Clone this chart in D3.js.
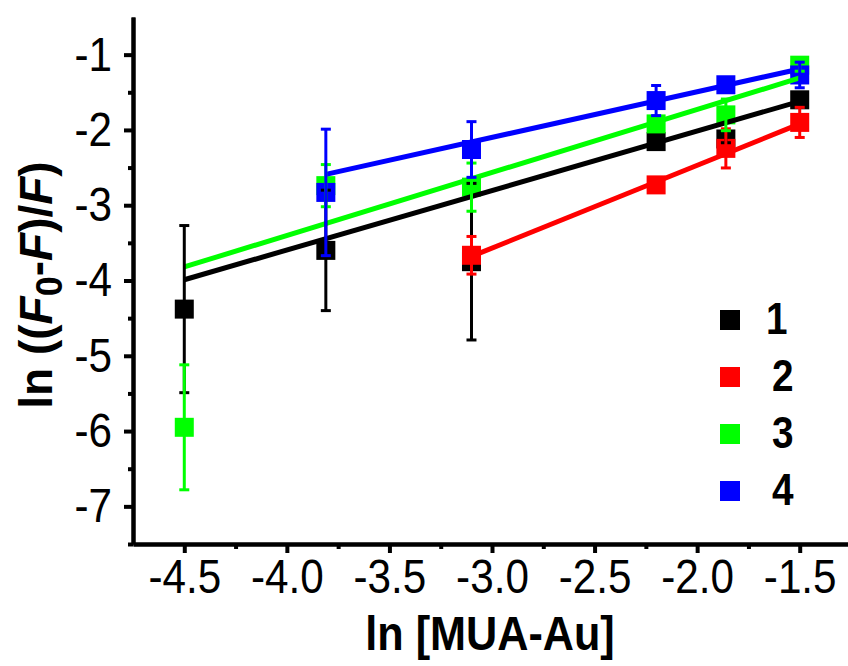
<!DOCTYPE html>
<html>
<head>
<meta charset="utf-8">
<script src="https://cdn.jsdelivr.net/npm/d3@7"></script>
<style>
  body { margin: 0; background: #fff; }
  text { font-family: "Liberation Sans", Arial, sans-serif; }
</style>
</head>
<body>
<script>
// Datos
const lnConc = [-4.5, -3.81, -3.1, -2.2, -1.86, -1.5];
const seriesNames = ["1", "2", "3", "4"];
const seriesColors = ["#000000", "#ff0000", "#00ff00", "#0000ff"];

const y1 = [-4.38, -3.60, -3.75, -2.155, -2.12, -1.60];
const e1 = [1.11, 0.80, 1.04, 0.05, 0.05, 0.05];
const y2 = [null, null, -3.665, -2.73, -2.245, -1.90];
const e2 = [null, null, 0.25, 0.05, 0.26, 0.20];
const y3 = [-5.95, -2.74, -2.76, -1.92, -1.80, -1.14];
const e3 = [0.83, 0.28, 0.32, 0.10, 0.21, 0.08];
const y4 = [null, -2.83, -2.26, -1.61, -1.40, -1.27];
const e4 = [null, 0.84, 0.37, 0.20, 0.05, 0.17];

// rectas de ajuste: x inicial, x final, y inicial, y final
const fitX0 = [-4.5, -3.1, -4.5, -3.81];
const fitX1 = [-1.5, -1.5, -1.5, -1.5];
const fitY0 = [-3.99, -3.68, -3.82, -2.59];
const fitY1 = [-1.62, -1.92, -1.31, -1.19];

const xTicks = [-4.5, -4.0, -3.5, -3.0, -2.5, -2.0, -1.5];
const xMinor = [-4.25, -3.75, -3.25, -2.75, -2.25, -1.75, -1.25];
const yTicks = [-1, -2, -3, -4, -5, -6, -7];
const yMinor = [-1.5, -2.5, -3.5, -4.5, -5.5, -6.5, -7.5];

const allY = [y1, y2, y3, y4];
const allE = [e1, e2, e3, e4];

// Dimensiones
const W = 848, H = 666;
const margin = {top: 17, right: -3, bottom: 122, left: 133};
const narrow = 0.88; // fuente estrecha como en el original

const svg = d3.select("body").append("svg")
  .attr("width", W)
  .attr("height", H);

const x = d3.scaleLinear().domain([-4.75, -1.25]).range([margin.left, W - margin.right]);
const y = d3.scaleLinear().domain([-7.5, -0.5]).range([H - margin.bottom, margin.top]);

// series como lista de puntos
const series = allY.map((vals, i) => ({
  name: seriesNames[i],
  color: seriesColors[i],
  points: vals.map((v, j) => ({x: lnConc[j], y: v, e: allE[i][j]})).filter(p => p.y !== null)
}));

// cuadrados
const sq = 19;
series.forEach(s => {
  svg.append("g").selectAll("rect")
    .data(s.points)
    .enter().append("rect")
    .attr("x", d => x(d.x) - sq / 2)
    .attr("y", d => y(d.y) - sq / 2)
    .attr("width", sq)
    .attr("height", sq)
    .attr("fill", s.color);
});

// rectas
series.forEach((s, i) => {
  svg.append("line")
    .attr("x1", x(fitX0[i])).attr("y1", y(fitY0[i]))
    .attr("x2", x(fitX1[i])).attr("y2", y(fitY1[i]))
    .attr("stroke", s.color)
    .attr("stroke-width", 5);
});

// barras de error
series.forEach(s => {
  const g = svg.append("g").attr("stroke", s.color).attr("stroke-width", 3);
  s.points.forEach(d => {
    g.append("line")
      .attr("x1", x(d.x)).attr("x2", x(d.x))
      .attr("y1", y(d.y + d.e)).attr("y2", y(d.y - d.e));
    [d.y + d.e, d.y - d.e].forEach(v => {
      g.append("line")
        .attr("x1", x(d.x) - 5).attr("x2", x(d.x) + 5)
        .attr("y1", y(v)).attr("y2", y(v));
    });
  });
});

// Ejes
const axisFont = 48;
svg.append("g")
  .attr("class", "xaxis")
  .attr("transform", "translate(0," + (H - margin.bottom) + ")")
  .call(d3.axisBottom(x).tickValues(xTicks).tickSize(9).tickSizeOuter(0).tickPadding(6)
    .tickFormat(d3.format(".1f")));
svg.append("g")
  .attr("transform", "translate(0," + (H - margin.bottom) + ")")
  .call(d3.axisBottom(x).tickValues(xMinor).tickSize(5).tickSizeOuter(0).tickFormat(""));

svg.append("g")
  .attr("class", "yaxis")
  .attr("transform", "translate(" + margin.left + ",0)")
  .call(d3.axisLeft(y).tickValues(yTicks).tickSize(9).tickSizeOuter(0)
    .tickFormat(d3.format("d")));
svg.append("g")
  .attr("transform", "translate(" + margin.left + ",0)")
  .call(d3.axisLeft(y).tickValues(yMinor).tickSize(5).tickSizeOuter(0).tickFormat(""));

svg.selectAll(".domain").attr("stroke-width", 4).attr("stroke", "#000");
svg.selectAll(".tick line").attr("stroke-width", 4).attr("stroke", "#000");
svg.selectAll(".tick text")
  .attr("font-family", "Liberation Sans, Arial")
  .attr("font-size", axisFont)
  .attr("fill", "#000")
  .text(function() { return d3.select(this).text().replace("\u2212", "-"); });
svg.selectAll(".xaxis .tick text").attr("transform", "scale(" + narrow + ",1)");
svg.selectAll(".yaxis .tick text")
  .attr("x", -21 / narrow)
  .attr("transform", "scale(" + narrow + ",1)");

// Titulos
svg.append("text")
  .attr("transform", "translate(490,650) scale(0.9,1)")
  .attr("text-anchor", "middle")
  .attr("font-size", 48)
  .attr("font-weight", "bold")
  .text("ln [MUA-Au]");

const yt = svg.append("text")
  .attr("transform", "translate(52,285) rotate(-90)")
  .attr("text-anchor", "middle")
  .attr("font-size", 46)
  .attr("font-weight", "bold");
yt.append("tspan").text("ln ((");
yt.append("tspan").attr("font-style", "italic").text("F");
yt.append("tspan").attr("dy", 10).attr("font-size", 36).text("0");
yt.append("tspan").attr("dy", -10).text("-");
yt.append("tspan").attr("font-style", "italic").text("F");
yt.append("tspan").text(")/");
yt.append("tspan").attr("font-style", "italic").text("F");
yt.append("tspan").text(")");

// Leyenda
const legend = svg.append("g");
series.forEach((s, i) => {
  const ly = 320 + i * 57;
  legend.append("rect")
    .attr("x", 720).attr("y", ly - 10)
    .attr("width", 20).attr("height", 20)
    .attr("fill", s.color);
  legend.append("text")
    .attr("transform", "translate(" + (i === 0 ? 766 : 772) + "," + (ly + 14) + ") scale(" + narrow + ",1)")
    .attr("font-size", 44)
    .attr("font-weight", "bold")
    .text(s.name);
});
</script>
</body>
</html>
